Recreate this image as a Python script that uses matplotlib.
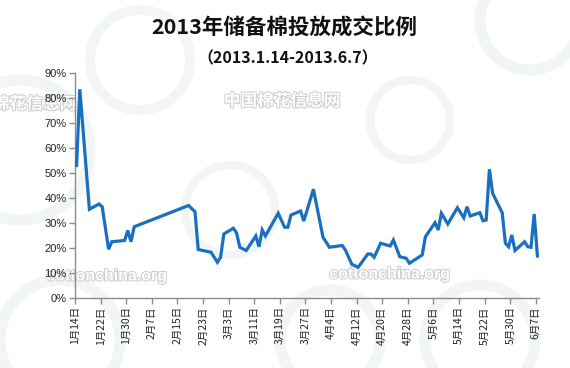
import matplotlib
matplotlib.use("Agg")
import matplotlib.pyplot as plt
import matplotlib.patheffects as pe
from matplotlib.patches import Circle
import pandas as pd
from matplotlib.ticker import FuncFormatter, MultipleLocator

plt.rcParams['font.family'] = ['Noto Sans CJK SC', 'DejaVu Sans']

title = "2013年储备棉投放成交比例"
subtitle = "（2013.1.14-2013.6.7）"

dates = ["2013-01-14", "2013-01-15", "2013-01-18", "2013-01-21", "2013-01-22",
         "2013-01-24", "2013-01-25", "2013-01-29", "2013-01-30", "2013-01-31",
         "2013-02-01", "2013-02-18", "2013-02-20", "2013-02-21", "2013-02-25",
         "2013-02-27", "2013-02-28", "2013-03-01", "2013-03-04", "2013-03-05",
         "2013-03-06", "2013-03-08", "2013-03-11", "2013-03-12", "2013-03-13",
         "2013-03-14", "2013-03-18", "2013-03-20", "2013-03-21", "2013-03-22",
         "2013-03-25", "2013-03-26", "2013-03-29", "2013-04-01", "2013-04-03",
         "2013-04-07", "2013-04-08", "2013-04-10", "2013-04-12", "2013-04-15",
         "2013-04-16", "2013-04-17", "2013-04-19", "2013-04-22", "2013-04-23",
         "2013-04-25", "2013-04-27", "2013-04-28", "2013-05-02", "2013-05-03",
         "2013-05-06", "2013-05-07", "2013-05-08", "2013-05-10", "2013-05-13",
         "2013-05-15", "2013-05-16", "2013-05-17", "2013-05-20", "2013-05-21",
         "2013-05-22", "2013-05-23", "2013-05-24", "2013-05-27", "2013-05-28",
         "2013-05-29", "2013-05-30", "2013-05-31", "2013-06-03", "2013-06-04",
         "2013-06-05", "2013-06-06", "2013-06-07"]

ratio = [53.0, 83.5, 35.5, 37.6, 36.5,
         19.5, 22.5, 23.0, 27.0, 22.5,
         28.5, 37.0, 34.5, 19.4, 18.3,
         14.3, 16.3, 25.6, 27.9, 26.0,
         20.3, 19.0, 24.8, 20.5, 27.2,
         24.8, 33.9, 28.3, 28.3, 33.2,
         34.8, 30.8, 43.5, 24.3, 20.3,
         21.0, 19.2, 13.5, 12.3, 17.6,
         17.6, 16.3, 21.9, 20.8, 23.2,
         16.5, 15.9, 13.9, 17.2, 24.5,
         30.1, 27.2, 33.9, 29.6, 36.1,
         32.1, 36.5, 32.8, 34.1, 30.9,
         31.2, 51.5, 41.9, 34.1, 21.9,
         20.5, 25.2, 19.0, 22.5, 20.5,
         20.3, 33.6, 16.8]

tick_dates = ["2013-01-14", "2013-01-22", "2013-01-30", "2013-02-07", "2013-02-15",
              "2013-02-23", "2013-03-03", "2013-03-11", "2013-03-19", "2013-03-27",
              "2013-04-04", "2013-04-12", "2013-04-20", "2013-04-28", "2013-05-06",
              "2013-05-14", "2013-05-22", "2013-05-30", "2013-06-07"]
tick_labels = ["1月14日", "1月22日", "1月30日", "2月7日", "2月15日", "2月23日",
               "3月3日", "3月11日", "3月19日", "3月27日", "4月4日", "4月12日",
               "4月20日", "4月28日", "5月6日", "5月14日", "5月22日", "5月30日", "6月7日"]

W, H = 570, 368
fig = plt.figure(figsize=(W / 100, H / 100), dpi=100)
fig.patch.set_facecolor("white")

# very faint background swirl rings (behind everything)
bg = fig.add_axes([0, 0, 1, 1], zorder=-10)
bg.set_xlim(0, W)
bg.set_ylim(H, 0)
bg.set_aspect("equal")
bg.axis("off")
ring_col = "#f1f6f5"
for cx, cy, r, lw in [(20, 150, 70, 8), (140, 60, 50, 7), (530, 20, 50, 8),
                      (60, 340, 60, 8), (330, 340, 50, 8), (480, 340, 55, 8),
                      (230, 210, 45, 6), (410, 120, 40, 6)]:
    bg.add_patch(Circle((cx, cy), r, fill=False, edgecolor=ring_col, linewidth=lw))

ax = fig.add_axes([75 / W, 1 - 298 / H, (539 - 75) / W, (298 - 73) / H], zorder=1)
ax.patch.set_alpha(0)

x = pd.to_datetime(dates) + pd.Timedelta(hours=12)
ax.plot(x, ratio, color="#1a6fc0", linewidth=2.3, solid_joinstyle="miter", zorder=5)

ax.set_xlim(pd.Timestamp("2013-01-14"), pd.Timestamp("2013-06-08"))
ax.set_ylim(0, 90)
ax.yaxis.set_major_locator(MultipleLocator(10))
ax.yaxis.set_major_formatter(FuncFormatter(lambda v, p: f"{int(round(v))}%"))
ax.set_xticks(pd.to_datetime(tick_dates))
ax.set_xticklabels(tick_labels, rotation=90, fontsize=7.5, color="#222222")

for s in ["top", "right"]:
    ax.spines[s].set_visible(False)
for s in ["left", "bottom"]:
    ax.spines[s].set_color("#8c8c8c")
    ax.spines[s].set_linewidth(1.0)
ax.tick_params(axis="both", direction="out", length=4, color="#8c8c8c", width=1.0)
ax.tick_params(axis="y", labelsize=8, labelcolor="#222222", pad=2)
ax.tick_params(axis="x", pad=2)
for lab in ax.get_yticklabels():
    lab.set_family(["Liberation Sans", "DejaVu Sans"])

# watermarks (outlined light text, behind the line)
wm = dict(color="white", zorder=-5,
          path_effects=[pe.withStroke(linewidth=1.4, foreground="#cdcdcd")])
fig.text(282 / W, 1 - 101 / H, "中国棉花信息网", ha="center", va="center",
         fontsize=12, fontweight="bold", **wm)
fig.text(76 / W, 1 - 104 / H, "中国棉花信息网", ha="right", va="center",
         fontsize=12, fontweight="bold", **wm)
fig.text(390 / W, 1 - 274 / H, "cottonchina.org", ha="center", va="center",
         fontsize=11.5, family=["Liberation Sans", "DejaVu Sans"], fontweight="bold", **wm)
fig.text(107 / W, 1 - 276 / H, "cottonchina.org", ha="center", va="center",
         fontsize=11.5, family=["Liberation Sans", "DejaVu Sans"], fontweight="bold", **wm)

fig.text(284 / W, 1 - 27 / H, title, ha="center", va="center",
         fontsize=15.5, fontweight="bold", color="#111111")
fig.text(288 / W, 1 - 58 / H, subtitle, ha="center", va="center",
         fontsize=11.5, fontweight="bold", color="#111111")

fig.savefig("out.png", dpi=100, facecolor="white")
